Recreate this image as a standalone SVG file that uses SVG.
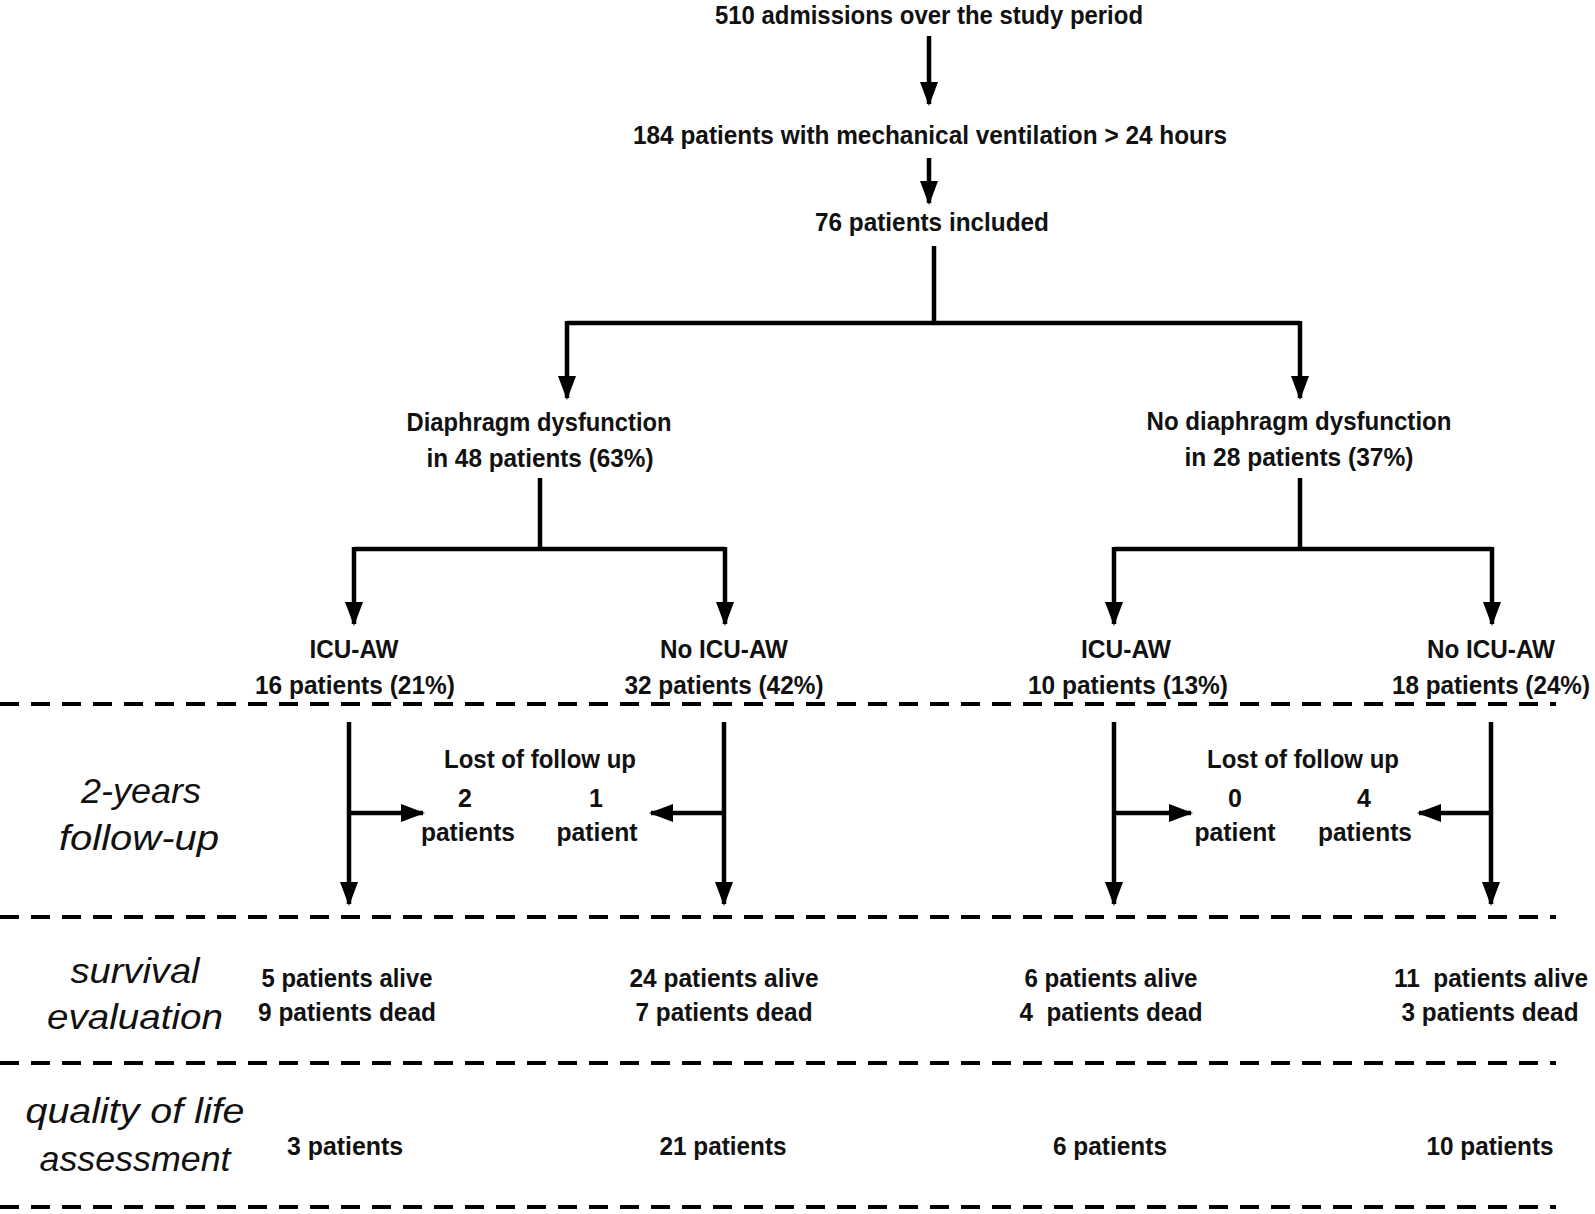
<svg xmlns="http://www.w3.org/2000/svg" width="1595" height="1214" viewBox="0 0 1595 1214">
<style>
.t{font-family:"Liberation Sans",Arial,sans-serif;font-weight:bold;font-size:25px;fill:#111;text-anchor:middle}
.i{font-family:"Liberation Sans",Arial,sans-serif;font-style:italic;font-size:35px;fill:#111;text-anchor:middle}
.ln{stroke:#000;stroke-width:4.5;fill:none}
.ar{stroke:#000;stroke-width:4.5;fill:none;marker-end:url(#ah)}
.ds{stroke:#000;stroke-width:4;fill:none;stroke-dasharray:19 12}
</style>
<defs>
<marker id="ah" markerUnits="userSpaceOnUse" markerWidth="24" markerHeight="20" refX="22" refY="10" orient="auto">
<path d="M0,1 L24,10 L0,19 Z" fill="#000"/>
</marker>
</defs>
<rect width="1595" height="1214" fill="#fff"/>
<g id="separators">
<line class="ds" x1="0" y1="704" x2="1556" y2="704"/>
<line class="ds" x1="0" y1="917" x2="1556" y2="917"/>
<line class="ds" x1="0" y1="1063" x2="1556" y2="1063"/>
<line class="ds" x1="0" y1="1207" x2="1556" y2="1207"/>
</g>
<g id="connectors">
<line class="ar" x1="929" y1="36" x2="929" y2="104"/>
<line class="ar" x1="929" y1="158" x2="929" y2="203"/>
<polyline class="ln" points="934,246 934,323"/>
<polyline class="ln" points="567,323 1300,323"/>
<line class="ar" x1="567" y1="321" x2="567" y2="398"/>
<line class="ar" x1="1300" y1="321" x2="1300" y2="398"/>
<polyline class="ln" points="540,478 540,549"/>
<polyline class="ln" points="354,549 725,549"/>
<line class="ar" x1="354" y1="547" x2="354" y2="624"/>
<line class="ar" x1="725" y1="547" x2="725" y2="624"/>
<polyline class="ln" points="1300,478 1300,549"/>
<polyline class="ln" points="1114,549 1492,549"/>
<line class="ar" x1="1114" y1="547" x2="1114" y2="624"/>
<line class="ar" x1="1492" y1="547" x2="1492" y2="624"/>
<line class="ar" x1="349" y1="722" x2="349" y2="904"/>
<line class="ar" x1="347" y1="813" x2="423" y2="813"/>
<line class="ar" x1="724" y1="722" x2="724" y2="904"/>
<line class="ar" x1="726" y1="813" x2="651" y2="813"/>
<line class="ar" x1="1114" y1="722" x2="1114" y2="904"/>
<line class="ar" x1="1112" y1="813" x2="1191" y2="813"/>
<line class="ar" x1="1491" y1="722" x2="1491" y2="904"/>
<line class="ar" x1="1493" y1="813" x2="1419" y2="813"/>
</g>
<g id="n-admissions"><text class="t" x="929" y="24" textLength="428" lengthAdjust="spacingAndGlyphs">510 admissions over the study period</text></g>
<g id="n-mv"><text class="t" x="930" y="144" textLength="594" lengthAdjust="spacingAndGlyphs">184 patients with mechanical ventilation &gt; 24 hours</text></g>
<g id="n-included"><text class="t" x="932" y="231" textLength="234" lengthAdjust="spacingAndGlyphs">76 patients included</text></g>
<g id="n-dd"><text class="t" x="539" y="431" textLength="265" lengthAdjust="spacingAndGlyphs">Diaphragm dysfunction</text><text class="t" x="540" y="467" textLength="227" lengthAdjust="spacingAndGlyphs">in 48 patients (63%)</text></g>
<g id="n-nodd"><text class="t" x="1299" y="430" textLength="305" lengthAdjust="spacingAndGlyphs">No diaphragm dysfunction</text><text class="t" x="1299" y="466" textLength="229" lengthAdjust="spacingAndGlyphs">in 28 patients (37%)</text></g>
<g id="n-dd-icu"><text class="t" x="354" y="658" textLength="89" lengthAdjust="spacingAndGlyphs">ICU-AW</text><text class="t" x="355" y="694" textLength="200" lengthAdjust="spacingAndGlyphs">16 patients (21%)</text></g>
<g id="n-dd-noicu"><text class="t" x="724" y="658" textLength="128" lengthAdjust="spacingAndGlyphs">No ICU-AW</text><text class="t" x="724" y="694" textLength="199" lengthAdjust="spacingAndGlyphs">32 patients (42%)</text></g>
<g id="n-nodd-icu"><text class="t" x="1126" y="658" textLength="90" lengthAdjust="spacingAndGlyphs">ICU-AW</text><text class="t" x="1128" y="694" textLength="200" lengthAdjust="spacingAndGlyphs">10 patients (13%)</text></g>
<g id="n-nodd-noicu"><text class="t" x="1491" y="658" textLength="128" lengthAdjust="spacingAndGlyphs">No ICU-AW</text><text class="t" x="1491" y="694" textLength="198" lengthAdjust="spacingAndGlyphs">18 patients (24%)</text></g>
<g id="n-lost-left"><text class="t" x="540" y="768" textLength="192" lengthAdjust="spacingAndGlyphs">Lost of follow up</text>
<text class="t" x="465" y="807">2</text><text class="t" x="468" y="841" textLength="94" lengthAdjust="spacingAndGlyphs">patients</text>
<text class="t" x="596" y="807">1</text><text class="t" x="597" y="841" textLength="81" lengthAdjust="spacingAndGlyphs">patient</text></g>
<g id="n-lost-right"><text class="t" x="1303" y="768" textLength="192" lengthAdjust="spacingAndGlyphs">Lost of follow up</text>
<text class="t" x="1235" y="807">0</text><text class="t" x="1235" y="841" textLength="81" lengthAdjust="spacingAndGlyphs">patient</text>
<text class="t" x="1364" y="807">4</text><text class="t" x="1365" y="841" textLength="94" lengthAdjust="spacingAndGlyphs">patients</text></g>
<g id="lbl-followup"><text class="i" x="141" y="803" textLength="120" lengthAdjust="spacingAndGlyphs">2-years</text><text class="i" x="139" y="850" textLength="160" lengthAdjust="spacingAndGlyphs">follow-up</text></g>
<g id="lbl-survival"><text class="i" x="135" y="983" textLength="129" lengthAdjust="spacingAndGlyphs">survival</text><text class="i" x="135" y="1029" textLength="176" lengthAdjust="spacingAndGlyphs">evaluation</text></g>
<g id="lbl-qol"><text class="i" x="135" y="1123" textLength="219" lengthAdjust="spacingAndGlyphs">quality of life</text><text class="i" x="135" y="1171" textLength="191" lengthAdjust="spacingAndGlyphs">assessment</text></g>
<g id="n-surv-1"><text class="t" x="347" y="987" textLength="171" lengthAdjust="spacingAndGlyphs">5 patients alive</text><text class="t" x="347" y="1021" textLength="178" lengthAdjust="spacingAndGlyphs">9 patients dead</text></g>
<g id="n-surv-2"><text class="t" x="724" y="987" textLength="189" lengthAdjust="spacingAndGlyphs">24 patients alive</text><text class="t" x="724" y="1021" textLength="177" lengthAdjust="spacingAndGlyphs">7 patients dead</text></g>
<g id="n-surv-3"><text class="t" x="1111" y="987" textLength="173" lengthAdjust="spacingAndGlyphs">6 patients alive</text><text class="t" x="1111" y="1021" textLength="183" lengthAdjust="spacingAndGlyphs" xml:space="preserve">4  patients dead</text></g>
<g id="n-surv-4"><text class="t" x="1491" y="987" textLength="194" lengthAdjust="spacingAndGlyphs" xml:space="preserve">11  patients alive</text><text class="t" x="1490" y="1021" textLength="177" lengthAdjust="spacingAndGlyphs">3 patients dead</text></g>
<g id="n-qol-1"><text class="t" x="345" y="1155" textLength="116" lengthAdjust="spacingAndGlyphs">3 patients</text></g>
<g id="n-qol-2"><text class="t" x="723" y="1155" textLength="127" lengthAdjust="spacingAndGlyphs">21 patients</text></g>
<g id="n-qol-3"><text class="t" x="1110" y="1155" textLength="114" lengthAdjust="spacingAndGlyphs">6 patients</text></g>
<g id="n-qol-4"><text class="t" x="1490" y="1155" textLength="127" lengthAdjust="spacingAndGlyphs">10 patients</text></g>
</svg>
